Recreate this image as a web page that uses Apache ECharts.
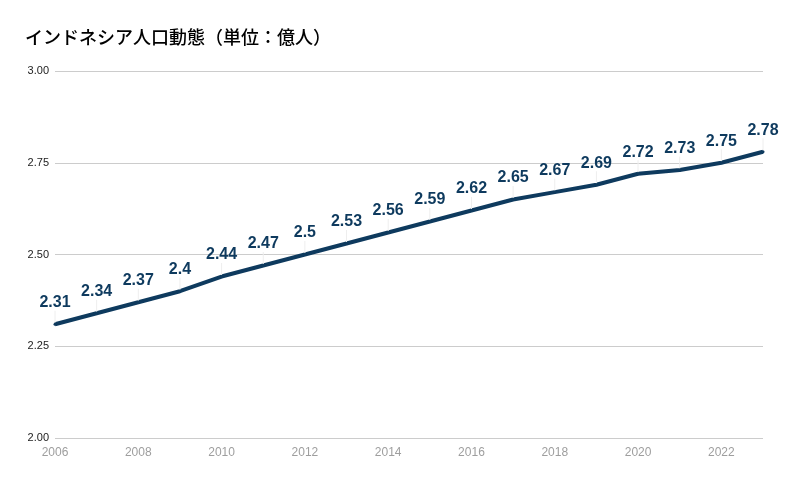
<!DOCTYPE html>
<html>
<head>
<meta charset="utf-8">
<script src="https://cdn.jsdelivr.net/npm/echarts@6/dist/echarts.min.js"></script>
<style>
  html, body { margin: 0; padding: 0; background: #fff; }
  #main { width: 788px; height: 483px; }
</style>
</head>
<body>
<div id="main"></div>
<script>
const years = ['2006', '2007', '2008', '2009', '2010', '2011', '2012', '2013', '2014',
    '2015', '2016', '2017', '2018', '2019', '2020', '2021', '2022', '2023'];
const population = [2.31, 2.34, 2.37, 2.4, 2.44, 2.47, 2.5, 2.53, 2.56,
    2.59, 2.62, 2.65, 2.67, 2.69, 2.72, 2.73, 2.75, 2.78];
const titleText = 'インドネシア人口動態（単位：億人）';

const chart = echarts.init(document.getElementById('main'));
chart.setOption({
    animation: false,
    title: {
        text: titleText,
        left: 20,
        top: 23,
        textStyle: {
            fontFamily: '"Noto Sans CJK JP", sans-serif',
            fontSize: 18,
            fontWeight: 500,
            color: '#000'
        }
    },
    grid: { left: 55, right: 25, top: 71, bottom: 45, containLabel: false },
    xAxis: {
        type: 'category',
        data: years,
        boundaryGap: false,
        axisLine: { show: false },
        axisTick: { show: false },
        axisLabel: {
            interval: 1,
            color: '#9e9e9e',
            fontSize: 12,
            fontFamily: '"Liberation Sans", Arial, sans-serif',
            margin: 9
        }
    },
    yAxis: {
        type: 'value',
        min: 2,
        max: 3,
        interval: 0.25,
        axisLine: { show: false },
        axisTick: { show: false },
        splitLine: { lineStyle: { color: '#cccccc', width: 1 } },
        axisLabel: {
            formatter: (v) => v.toFixed(2),
            color: '#222',
            fontSize: 11,
            fontFamily: '"Liberation Sans", Arial, sans-serif',
            margin: 6
        }
    },
    series: [{
        type: 'line',
        data: population,
        showSymbol: true,
        symbol: 'circle',
        symbolSize: 3,
        lineStyle: { color: '#0e3a5e', width: 4 },
        itemStyle: { color: '#0e3a5e', borderWidth: 0 },
        label: {
            show: true,
            position: 'top',
            distance: 4,
            color: '#0e3a5e',
            fontSize: 16,
            fontWeight: 'bold',
            fontFamily: '"Liberation Sans", Arial, sans-serif'
        },
        labelLayout: { dy: -8 },
        labelLine: { show: true, lineStyle: { color: '#eeeeee', width: 1 } }
    }]
});
</script>
</body>
</html>
